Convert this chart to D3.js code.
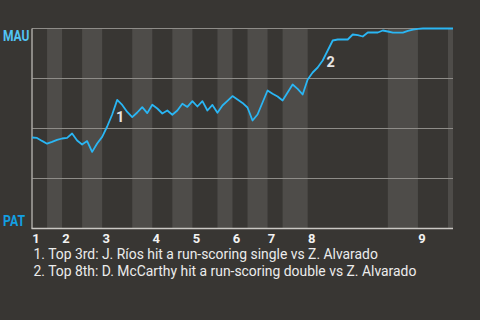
<!DOCTYPE html>
<html>
<head>
<meta charset="utf-8">
<script src="https://cdn.jsdelivr.net/npm/d3@7"></script>
<style>
  html, body { margin: 0; padding: 0; background: #383633; }
  svg { display: block; }
  text { font-family: Roboto, "Noto Sans", sans-serif; }
</style>
</head>
<body>
<svg id="chart" width="480" height="320"></svg>
<script>
// MAU win probability (%) after each plate appearance
var winProb = [
    45.5, 45.3, 43.8, 42.4, 43.3, 44.3, 45, 45.3, 47.5, 44,
    42, 43.7, 38.3, 42.5, 45.8, 51, 57, 64.3, 61.8, 58.3,
    55.7, 58, 60.7, 57.7, 61.9, 60, 57.5, 59, 56.9, 59,
    62.4, 60.8, 63.7, 61, 63.7, 59, 61.8, 57.9, 61.5, 63.8,
    66.2, 64.5, 62.8, 60.5, 54, 57, 63, 69, 67.4, 66,
    64, 68, 72, 69.8, 67, 74.5, 78, 80.5, 84, 89,
    94, 94.5, 94.5, 94.5, 97, 96.7, 96, 98, 98, 98,
    99, 98.5, 97.9, 97.9, 97.9, 98.8, 99.4, 99.8, 100, 100,
    100, 100, 100, 100, 100
];

// plate appearance index where each half inning begins
var halfStarts = [0, 3, 6, 10, 14, 20, 24, 28, 32, 37, 40, 43, 47, 50, 55, 71, 77, 83];
var lastPA = 84;
var innings = ["1", "2", "3", "4", "5", "6", "7", "8", "9"];

var teams = ["MAU", "PAT"];
var gridValues = [100, 75, 50, 25];

var notePA = [17, 59];
var noteLabels = ["1", "2"];
var notes = [
    "1. Top 3rd: J. Ríos hit a run-scoring single vs Z. Alvarado",
    "2. Top 8th: D. McCarthy hit a run-scoring double vs Z. Alvarado"
];

function drawChart() {
    var svg = d3.select("svg#chart");

    var x = d3.scaleLinear().domain([0, lastPA]).range([32, 453]);
    var y = d3.scaleLinear().domain([0, 100]).range([228.5, 28.5]);

    // bottom halves are shaded
    var bands = halfStarts.map(function(s, i) {
        return { start: s, end: i + 1 < halfStarts.length ? halfStarts[i + 1] : lastPA, bottom: i % 2 == 1 };
    }).filter(d => d.bottom);

    svg.selectAll("rect.band")
        .data(bands)
        .enter()
        .append("rect")
        .attr("class", "band")
        .attr("x", d => x(d.start))
        .attr("width", d => x(d.end) - x(d.start))
        .attr("y", y(100))
        .attr("height", y(0) - y(100))
        .attr("fill", "#4e4c49");

    svg.selectAll("line.grid")
        .data(gridValues)
        .enter()
        .append("line")
        .attr("class", "grid")
        .attr("x1", x(0))
        .attr("x2", x(lastPA))
        .attr("y1", d => y(d))
        .attr("y2", d => y(d))
        .attr("stroke", "#8e8c88")
        .attr("stroke-width", 1.2);

    // axes
    svg.append("line")
        .attr("x1", x(0)).attr("x2", x(0))
        .attr("y1", y(100)).attr("y2", y(0))
        .attr("stroke", "#a9a7a3").attr("stroke-width", 1.5);
    svg.append("line")
        .attr("x1", x(0) - 0.5).attr("x2", x(lastPA))
        .attr("y1", y(0)).attr("y2", y(0))
        .attr("stroke", "#c9c7c3").attr("stroke-width", 1.5);

    // inning numbers at the start of each top half
    svg.selectAll("text.inning")
        .data(innings)
        .enter()
        .append("text")
        .attr("class", "inning")
        .attr("x", (d, i) => x(halfStarts[i * 2]) + 4)
        .attr("y", 243)
        .attr("text-anchor", "middle")
        .attr("font-size", 13)
        .attr("font-weight", "bold")
        .attr("fill", "#f2f2f2")
        .text(d => d);

    var teamWidth = [26.5, 22];
    svg.selectAll("text.team")
        .data(teams)
        .enter()
        .append("text")
        .attr("class", "team")
        .attr("x", 3)
        .attr("y", (d, i) => i == 0 ? 40.5 : 226)
        .attr("font-size", 15)
        .attr("font-weight", "bold")
        .attr("textLength", (d, i) => teamWidth[i])
        .attr("lengthAdjust", "spacingAndGlyphs")
        .attr("fill", (d, i) => i == 0 ? "#52c4f5" : "#129fe2")
        .text(d => d);

    var line = d3.line()
        .x((d, i) => x(i))
        .y(d => y(d));

    svg.append("path")
        .datum(winProb)
        .attr("d", line)
        .attr("fill", "none")
        .attr("stroke", "#2ab6f4")
        .attr("stroke-width", 1.8)
        .attr("stroke-linejoin", "round");

    var noteDy = [17, 11];
    svg.selectAll("text.mark")
        .data(noteLabels)
        .enter()
        .append("text")
        .attr("class", "mark")
        .attr("x", (d, i) => x(notePA[i]) + 3)
        .attr("y", (d, i) => y(winProb[notePA[i]]) + noteDy[i] + 5)
        .attr("text-anchor", "middle")
        .attr("font-size", 14.5)
        .attr("font-weight", "bold")
        .attr("fill", "#e4e4e4")
        .text(d => d);

    svg.selectAll("text.note")
        .data(notes)
        .enter()
        .append("text")
        .attr("class", "note")
        .attr("x", 33.5)
        .attr("y", (d, i) => 258.5 + i * 17.5)
        .attr("font-size", 13.9)
        .attr("fill", "#ececec")
        .text(d => d);
}

drawChart();
</script>
</body>
</html>
